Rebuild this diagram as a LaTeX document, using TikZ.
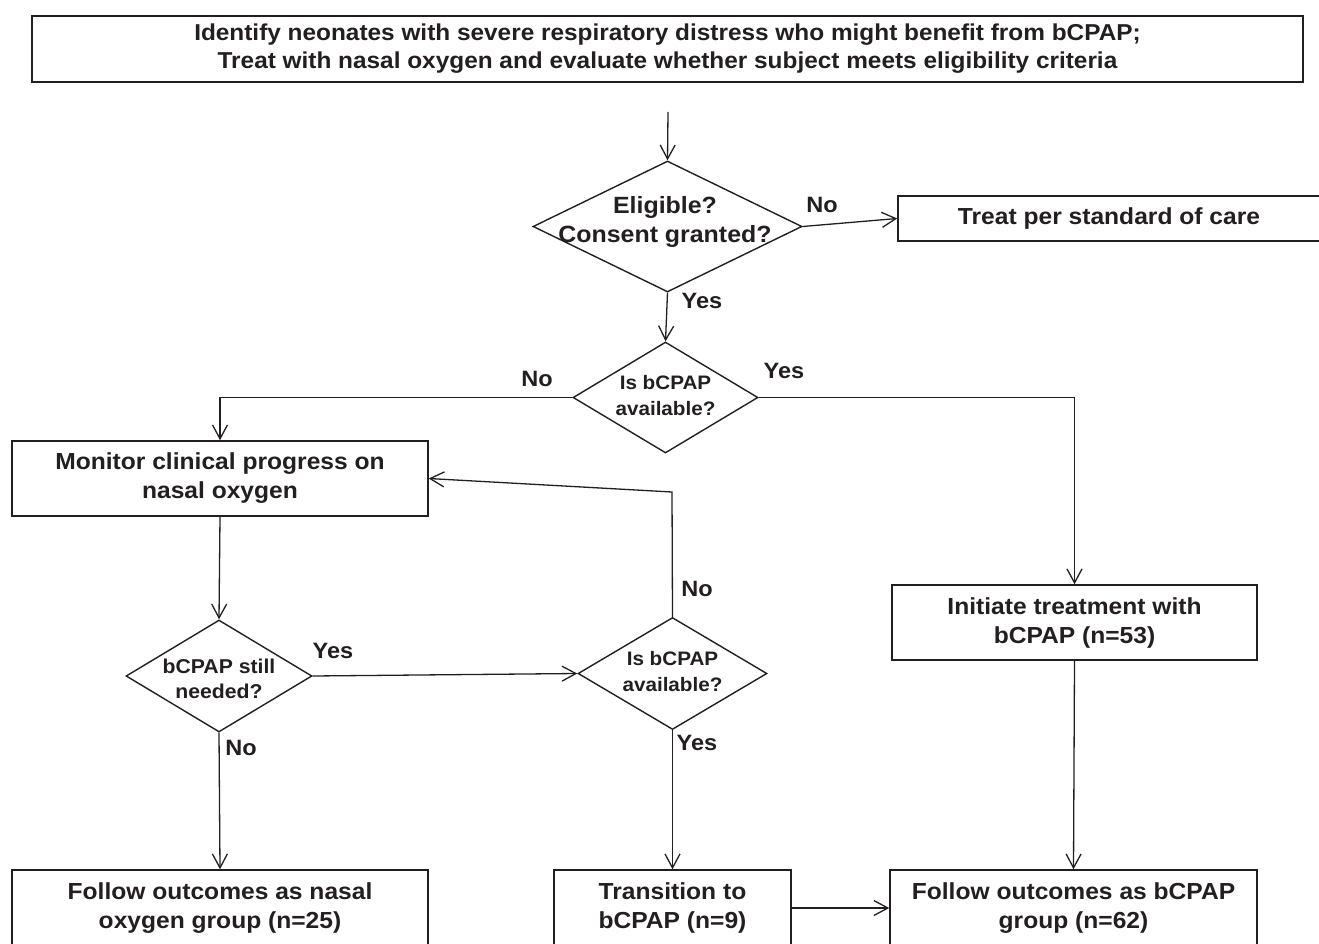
\documentclass[tikz,border=0pt]{standalone}
\usepackage{fontspec}
\setmainfont{Liberation Sans}[FakeStretch=1.06]
\usetikzlibrary{shapes.geometric,arrows.meta}
\definecolor{ink}{HTML}{231F20}
\begin{document}
\begin{tikzpicture}[x=1pt,y=-1pt,
  box/.style={draw=ink, line width=1.5pt, fill=white, inner sep=0pt, align=center,
    text=ink, font=\bfseries\fontsize{23.2}{29}\selectfont},
  dia/.style={draw=ink, shape=diamond, line width=1.4pt, inner sep=0pt},
  dtext/.style={inner sep=0pt, align=center, text=ink},
  lbl/.style={inner sep=0pt, text=ink, font=\bfseries\fontsize{22.2}{25}\selectfont},
  arr/.style={draw=ink, line width=1.3pt, -{Straight Barb[length=14pt,width=15pt]}},
  ln/.style={draw=ink, line width=1.3pt}]
\fill[white] (0,0) rectangle (1319,944);
\useasboundingbox (0,0) rectangle (1319,944);

% boxes
\node[box, minimum width=1271pt, minimum height=66pt, font=\bfseries\fontsize{23}{28}\selectfont] (top) at (667.5,49)
  {Identify neonates with severe respiratory distress who might benefit from bCPAP;\\
   Treat with nasal oxygen and evaluate whether subject meets eligibility criteria};
\node[box, minimum width=422pt, minimum height=45pt] (treat) at (1109,218.5) {Treat per standard of care};
\node[box, minimum width=416pt, minimum height=75pt] (mon) at (220,478.5) {Monitor clinical progress on\\nasal oxygen};
\node[box, minimum width=365pt, minimum height=75pt] (init) at (1074.5,622.5) {Initiate treatment with\\bCPAP (n=53)};
\node[box, minimum width=416pt, minimum height=76pt] (nasal) at (220,908) {Follow outcomes as nasal\\oxygen group (n=25)};
\node[box, minimum width=237pt, minimum height=76pt] (trans) at (672.5,908) {Transition to\\bCPAP (n=9)};
\node[box, minimum width=367pt, minimum height=76pt] (bgrp) at (1073.5,908) {Follow outcomes as bCPAP\\group (n=62)};

% diamonds
\node[dia, minimum width=269pt, minimum height=131pt] (d1) at (667.5,226.5) {};
\node[dtext, font=\bfseries\fontsize{23.5}{29}\selectfont] (d1t) at (665,222) {Eligible?\\Consent granted?};
\node[dia, minimum width=185pt, minimum height=111pt] (d2) at (665.5,397.5) {};
\node[dtext, font=\bfseries\fontsize{19.5}{26}\selectfont] (d2t) at (665.5,396) {Is bCPAP\\available?};
\node[dia, minimum width=186pt, minimum height=112pt] (d3) at (219,676) {};
\node[dtext, font=\bfseries\fontsize{20}{25}\selectfont] (d3t) at (219,679) {bCPAP still\\needed?};
\node[dia, minimum width=189pt, minimum height=112pt] (d4) at (672.5,673.5) {};
\node[dtext, font=\bfseries\fontsize{19.5}{26}\selectfont] (d4t) at (672.5,672) {Is bCPAP\\available?};

% labels
\node[lbl] (l1) at (822,205) {No};
\node[lbl] (l2) at (702,301) {Yes};
\node[lbl] (l3) at (537,379) {No};
\node[lbl] (l4) at (784,371) {Yes};
\node[lbl] (l5) at (333,651) {Yes};
\node[lbl] (l6) at (241,748) {No};
\node[lbl] (l7) at (697,589) {No};
\node[lbl] (l8) at (697,743) {Yes};

% connectors
\coordinate (s) at (668,112);
\coordinate (k) at (672,492);
\draw[arr] (s) -- (d1.north);
\draw[arr] (d1.east) -- (treat.west);
\draw[arr] (d1.south) -- (d2.north);
\draw[arr] (d2.west) -- (mon.north |- d2.west) -- (mon.north);
\draw[arr] (d2.east) -- (init.north |- d2.east) -- (init.north);
\draw[arr] (mon.south) -- (d3.north);
\draw[arr] (d3.east) -- (d4.west);
\draw[arr] (d4.north) -- (k) -- (mon.east);
\draw[arr] (d3.south) -- (nasal.north);
\draw[arr] (d4.south) -- (trans.north);
\draw[arr] (init.south) -- (bgrp.north);
\draw[arr] (trans.east) -- (bgrp.west);
\end{tikzpicture}
\end{document}
